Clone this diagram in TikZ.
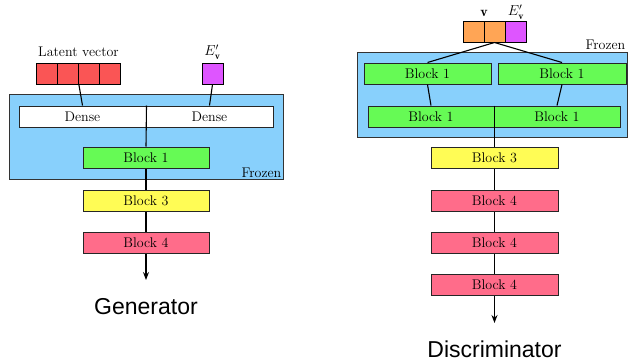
\documentclass[tikz,border=0pt]{standalone}
\usepackage{amsmath}
\usepackage{fontspec}
\newfontfamily\labelfont{Liberation Sans}
\usepackage{tikz}
\usetikzlibrary{shapes,arrows,arrows.meta,positioning,fit,backgrounds,calc}

\definecolor{latred}{RGB}{250,85,85}
\definecolor{embpurple}{RGB}{222,85,255}
\definecolor{vecorange}{RGB}{255,165,85}
\definecolor{frozenblue}{RGB}{136,208,252}
\definecolor{blkgreen}{RGB}{102,250,85}
\definecolor{blkyellow}{RGB}{255,252,85}
\definecolor{blkpink}{RGB}{255,108,138}

\begin{document}
\begin{tikzpicture}[x=1pt, y=-1pt,
    cell/.style={rectangle, draw, line width=1pt, minimum width=21pt, minimum height=21pt, inner sep=0pt},
    panel/.style={rectangle, draw=black!80, line width=1pt, fill=frozenblue, inner sep=0pt},
    block/.style={rectangle, draw=black!85, line width=1pt, minimum height=21pt, inner sep=0pt, font=\fontsize{14}{16}\selectfont},
    lbl/.style={font=\fontsize{14}{16}\selectfont},
    link/.style={line width=1.1pt},
    title/.style={font=\labelfont\fontsize{23}{26}\selectfont}
]
\useasboundingbox (0,0) rectangle (629,362);

% Generator
\node[panel, minimum width=274pt, minimum height=85pt] (genpanel) at (146,136.5) {};
\node[lbl, anchor=south east, inner sep=2pt] (genfrozen) at (genpanel.south east) {Frozen};
\foreach \i in {1,...,4}
    \node[cell, fill=latred] (lat\i) at ({36+21.25*(\i-0.5)},73.5) {};
\node[lbl] (latlabel) at (78.5,52) {Latent vector};
\node[cell, fill=embpurple] (genev) at (212.5,73.5) {};
\node[lbl] (genevlabel) at (212.5,52) {$E'_{\mathbf{v}}$};
\node[block, fill=white, minimum width=127pt] (denseL) at (82.5,116.5) {Dense};
\node[block, fill=white, minimum width=127pt] (denseR) at (209.5,116.5) {Dense};
\node[block, fill=blkgreen, minimum width=126pt] (gb1) at (146,157.5) {Block 1};
\node[block, fill=blkyellow, minimum width=126pt] (gb3) at (146,200.5) {Block 3};
\node[block, fill=blkpink, minimum width=126pt] (gb4) at (146,242.5) {Block 4};
\coordinate (genout) at (146,280);
\node[title] (gentitle) at (146,307) {Generator};

\draw[link] (lat2.south east) -- (denseL.north);
\draw[link] (genev.south) -- (denseR.north);
\draw[link] (denseL.north east) -- (gb1.north);
\draw[link] (gb1.south) -- (gb3.north);
\draw[link] (gb3.south) -- (gb4.north);
\draw[link, -{Stealth[length=8pt,width=6pt]}] (gb4.south) -- (genout);

% Discriminator
\node[panel, minimum width=270pt, minimum height=85pt] (discpanel) at (492,94.5) {};
\node[lbl, anchor=south east, inner sep=2pt] (discfrozen) at (discpanel.north east) {Frozen};
\node[cell, fill=vecorange] (v1) at (473.5,31.5) {};
\node[cell, fill=vecorange] (v2) at (494.5,31.5) {};
\node[cell, fill=embpurple] (discev) at (515.5,31.5) {};
\node[lbl] (vlabel) at (484,13) {$\mathbf{v}$};
\node[lbl] (discevlabel) at (516,12) {$E'_{\mathbf{v}}$};
\node[block, fill=blkgreen, minimum width=127pt] (d1L) at (427.5,73.5) {Block 1};
\node[block, fill=blkgreen, minimum width=128pt] (d1R) at (562,73.5) {Block 1};
\node[block, fill=blkgreen, minimum width=126pt] (d2L) at (431,116.5) {Block 1};
\node[block, fill=blkgreen, minimum width=126pt] (d2R) at (557,116.5) {Block 1};
\node[block, fill=blkyellow, minimum width=127pt] (db3) at (494.5,158) {Block 3};
\node[block, fill=blkpink, minimum width=127pt] (db4a) at (494.5,200.5) {Block 4};
\node[block, fill=blkpink, minimum width=127pt] (db4b) at (494.5,242.5) {Block 4};
\node[block, fill=blkpink, minimum width=127pt] (db4c) at (494.5,285) {Block 4};
\coordinate (discout) at (494.5,323);
\node[title] (disctitle) at (494.5,349) {Discriminator};

\draw[link] (v2.south) -- (d1L.north);
\draw[link] (v2.south) -- (d1R.north);
\draw[link] (d1L.south) -- (d2L.north);
\draw[link] (d1R.south) -- (d2R.north);
\draw[link] (d2L.north east) -- (db3.north);
\draw[link] (db3.south) -- (db4a.north);
\draw[link] (db4a.south) -- (db4b.north);
\draw[link] (db4b.south) -- (db4c.north);
\draw[link, -{Stealth[length=8pt,width=6pt]}] (db4c.south) -- (discout);

\end{tikzpicture}
\end{document}
